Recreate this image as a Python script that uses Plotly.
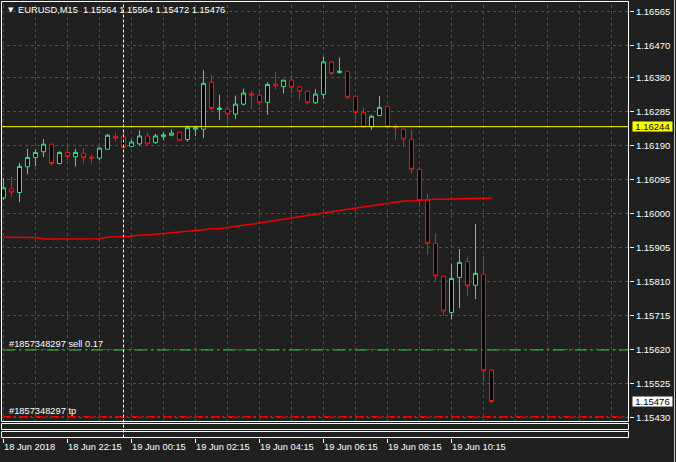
import plotly.graph_objects as go

# ---------------- data ----------------
bars = list(range(62))
open_ = [1.16045, 1.16070, 1.16060, 1.16132, 1.16158, 1.16174, 1.16195, 1.16141, 1.16172, 1.16160,
         1.16170, 1.16159, 1.16156, 1.16181, 1.16217, 1.16216, 1.16189, 1.16196, 1.16218, 1.16200,
         1.16216, 1.16220, 1.16228, 1.16208, 1.16237, 1.16237, 1.16368, 1.16292, 1.16293, 1.16279,
         1.16307, 1.16336, 1.16332, 1.16312, 1.16363, 1.16356, 1.16374, 1.16355, 1.16343, 1.16311,
         1.16334, 1.16425, 1.16395, 1.16399, 1.16329, 1.16284, 1.16244, 1.16275, 1.16301, 1.16243,
         1.16237, 1.16209, 1.16125, 1.16039, 1.15918, 1.15826, 1.15725, 1.15823, 1.15867, 1.15801,
         1.15832, 1.15564]
high = [1.16101, 1.16104, 1.16143, 1.16182, 1.16181, 1.16209, 1.16196, 1.16176, 1.16195, 1.16182,
        1.16184, 1.16167, 1.16187, 1.16224, 1.16228, 1.16228, 1.16208, 1.16234, 1.16228, 1.16224,
        1.16228, 1.16236, 1.16229, 1.16247, 1.16242, 1.16402, 1.16388, 1.16333, 1.16303, 1.16331,
        1.16350, 1.16344, 1.16346, 1.16368, 1.16398, 1.16375, 1.16388, 1.16358, 1.16344, 1.16349,
        1.16440, 1.16426, 1.16437, 1.16400, 1.16330, 1.16298, 1.16277, 1.16330, 1.16302, 1.16252,
        1.16238, 1.16235, 1.16126, 1.16056, 1.15946, 1.15827, 1.15860, 1.15902, 1.15881, 1.15972,
        1.15883, 1.15564]
low = [1.16039, 1.16048, 1.16033, 1.16111, 1.16134, 1.16159, 1.16135, 1.16139, 1.16150, 1.16133,
       1.16141, 1.16141, 1.16150, 1.16180, 1.16204, 1.16185, 1.16187, 1.16191, 1.16193, 1.16196,
       1.16206, 1.16219, 1.16204, 1.16202, 1.16218, 1.16212, 1.16291, 1.16263, 1.16251, 1.16265,
       1.16303, 1.16293, 1.16303, 1.16277, 1.16348, 1.16337, 1.16337, 1.16317, 1.16306, 1.16307,
       1.16321, 1.16388, 1.16393, 1.16321, 1.16253, 1.16242, 1.16235, 1.16274, 1.16239, 1.16207,
       1.16186, 1.16113, 1.16020, 1.15885, 1.15811, 1.15716, 1.15706, 1.15737, 1.15771, 1.15762,
       1.15530, 1.15472]
close = [1.16073, 1.16061, 1.16133, 1.16158, 1.16172, 1.16195, 1.16141, 1.16172, 1.16161, 1.16172,
         1.16157, 1.16156, 1.16184, 1.16220, 1.16212, 1.16186, 1.16201, 1.16218, 1.16196, 1.16218,
         1.16221, 1.16226, 1.16206, 1.16241, 1.16241, 1.16365, 1.16295, 1.16296, 1.16279, 1.16307,
         1.16338, 1.16332, 1.16311, 1.16362, 1.16358, 1.16374, 1.16354, 1.16343, 1.16311, 1.16335,
         1.16425, 1.16393, 1.16399, 1.16326, 1.16284, 1.16243, 1.16273, 1.16298, 1.16243, 1.16241,
         1.16209, 1.16125, 1.16037, 1.15918, 1.15827, 1.15729, 1.15820, 1.15865, 1.15799, 1.15834,
         1.15562, 1.15476]
ma = [1.15935, 1.15935, 1.15935, 1.15935, 1.15934, 1.15930, 1.15930, 1.15930, 1.15930, 1.15930,
      1.15930, 1.15930, 1.15931, 1.15935, 1.15935, 1.15937, 1.15938, 1.15941, 1.15941, 1.15943,
      1.15946, 1.15946, 1.15950, 1.15950, 1.15953, 1.15956, 1.15959, 1.15959, 1.15962, 1.15965,
      1.15968, 1.15972, 1.15975, 1.15978, 1.15982, 1.15985, 1.15989, 1.15992, 1.15996, 1.15999,
      1.16003, 1.16006, 1.16010, 1.16013, 1.16017, 1.16020, 1.16023, 1.16027, 1.16030, 1.16033,
      1.16036, 1.16036, 1.16038, 1.16039, 1.16041, 1.16041, 1.16041, 1.16041, 1.16043, 1.16044,
      1.16044, 1.16044]

tick_bars = [0, 8, 16, 24, 32, 40, 48, 56]
tick_labels = ["18 Jun 2018", "18 Jun 22:15", "19 Jun 00:15", "19 Jun 02:15",
               "19 Jun 04:15", "19 Jun 06:15", "19 Jun 08:15", "19 Jun 10:15"]
price_ticks = [1.15430, 1.15525, 1.15620, 1.15715, 1.15810, 1.15905, 1.16000,
               1.16095, 1.16190, 1.16285, 1.16380, 1.16470, 1.16565]
price_labels = ["1.15430", "1.15525", "1.15620", "1.15715", "1.15810", "1.15905", "1.16000",
                "1.16095", "1.16190", "1.16285", "1.16380", "1.16470", "1.16565"]

symbol = "EURUSD,M15"
hline_level = 1.16244
bid_price = 1.15476
order_id = "#1857348297"
sell_price = 1.15620
sell_lots = "0.17"
tp_price = 1.15434
marker_bar = 15

# ---------------- style / layout ----------------
W, H = 676, 462
ML, MR, MT, MB = 1, 47, 1, 24
PW = W - ML - MR
PH = H - MT - MB
BOTTOM = H - MB  # pixel row of plot-area bottom


def px_x(px):
    return (px - ML) / PW


def px_y(py):
    return (BOTTOM - py) / PH


BG = "#202020"
GRID = "#505050"
UP = "#2ee88a"
DN = "#ff1010"
FONT = "Liberation Sans"
main_bottom = px_y(422)
XSHIFT = 0.0625  # half-pixel alignment of bar centres

fig = go.Figure()
fig.add_trace(go.Candlestick(
    x=bars, open=open_, high=high, low=low, close=close,
    increasing=dict(line=dict(color=UP, width=1), fillcolor="#000000"),
    decreasing=dict(line=dict(color=DN, width=1), fillcolor="#000000"),
    whiskerwidth=0, hoverinfo="skip", showlegend=False,
))
fig.add_trace(go.Scatter(x=bars, y=ma, mode="lines", line=dict(color="#f00000", width=1.5),
                         hoverinfo="skip", showlegend=False))

shapes = []
# vertical grid every 4 bars
for b in range(0, 80, 4):
    shapes.append(dict(type="line", xref="x", yref="paper", x0=b, x1=b, y0=main_bottom, y1=1,
                       line=dict(color=GRID, width=1, dash="3px,3px"), layer="below"))
# horizontal levels
shapes.append(dict(type="line", xref="paper", yref="y", x0=0, x1=1, y0=hline_level, y1=hline_level,
                   line=dict(color="#ffff00", width=1)))
shapes.append(dict(type="line", xref="paper", yref="y", x0=px_x(3), x1=1, y0=sell_price, y1=sell_price,
                   line=dict(color="#3cc83c", width=1, dash="12px,4px,2px,4px")))
shapes.append(dict(type="line", xref="paper", yref="y", x0=px_x(3), x1=1, y0=tp_price, y1=tp_price,
                   line=dict(color="#ff0000", width=1, dash="8px,3px,2px,3px")))
# vertical dashed marker
shapes.append(dict(type="line", xref="x", yref="paper", x0=marker_bar, x1=marker_bar,
                   y0=px_y(437.5), y1=1,
                   line=dict(color="#ffffff", width=1, dash="3px,2px")))
# pane borders (half-pixel aligned)
bx0, bx1 = px_x(1.5), px_x(628.5)
shapes.append(dict(type="rect", xref="paper", yref="paper", x0=bx0, x1=bx1,
                   y0=px_y(421.5), y1=px_y(1.5), line=dict(color="#ffffff", width=1)))
shapes.append(dict(type="rect", xref="paper", yref="paper", x0=bx0, x1=bx1,
                   y0=px_y(429.5), y1=px_y(423.5), line=dict(color="#ffffff", width=1)))
shapes.append(dict(type="rect", xref="paper", yref="paper", x0=bx0, x1=bx1,
                   y0=px_y(437.5), y1=px_y(431.5), line=dict(color="#ffffff", width=1)))
# window edge on the right
shapes.append(dict(type="line", xref="paper", yref="paper", x0=px_x(674.5), x1=px_x(674.5),
                   y0=px_y(462), y1=px_y(0), line=dict(color="#c8c8c8", width=1)))

header = "\u00a0".join([symbol, "", f"{open_[-1]:.5f}", f"{high[-1]:.5f}", f"{low[-1]:.5f}", f"{close[-1]:.5f}"])
annotations = [
    dict(xref="paper", yref="paper", x=px_x(6), y=px_y(10.5), xanchor="left", yanchor="middle",
         text="\u25bc", showarrow=False, font=dict(family="DejaVu Sans", size=7, color="#ffffff")),
    dict(xref="paper", yref="paper", x=px_x(16), y=px_y(10.5), xanchor="left", yanchor="middle",
         text=header, showarrow=False, font=dict(family=FONT, size=9.3, color="#ffffff")),
    dict(xref="paper", yref="y", x=px_x(7), y=sell_price, xanchor="left", yanchor="bottom",
         text=f"{order_id} sell {sell_lots}", showarrow=False, yshift=-1,
         font=dict(family=FONT, size=9.3, color="#ffffff")),
    dict(xref="paper", yref="y", x=px_x(7), y=tp_price, xanchor="left", yanchor="bottom",
         text=f"{order_id} tp", showarrow=False, yshift=-1,
         font=dict(family=FONT, size=9.3, color="#ffffff")),
    dict(xref="paper", yref="y", x=px_x(632), y=hline_level, xanchor="left", yanchor="middle",
         text=f"{hline_level:.5f}", showarrow=False, bgcolor="#ffff00", width=39, height=9,
         borderpad=0, align="center", font=dict(family=FONT, size=9.5, color="#000000")),
    dict(xref="paper", yref="y", x=px_x(632), y=bid_price, xanchor="left", yanchor="middle",
         text=f"{bid_price:.5f}", showarrow=False, bgcolor="#ffffff", width=39, height=9,
         borderpad=0, align="center", font=dict(family=FONT, size=9.5, color="#000000")),
]

fig.update_layout(
    width=W, height=H,
    margin=dict(l=ML, r=MR, t=MT, b=MB, pad=0, autoexpand=False),
    paper_bgcolor=BG, plot_bgcolor=BG,
    showlegend=False,
    shapes=shapes, annotations=annotations,
    xaxis=dict(range=[-0.25 - XSHIFT, 78.25 - XSHIFT], showgrid=False, zeroline=False, showline=False,
               tickmode="array", tickvals=tick_bars, ticktext=tick_labels, tickangle=0,
               ticks="outside", ticklen=4, tickcolor="#ffffff", tickwidth=1,
               tickfont=dict(family=FONT, size=9.3, color="#ffffff"),
               ticklabelposition="outside right", ticklabeloverflow="allow",
               anchor="free", position=0, rangeslider=dict(visible=False), fixedrange=True,
               automargin=False),
    yaxis=dict(domain=[main_bottom, 1], range=[1.154188, 1.165951], side="right",
               tickmode="array", tickvals=price_ticks, ticktext=price_labels,
               ticks="outside", ticklen=4, tickcolor="#ffffff", tickwidth=1,
               tickfont=dict(family=FONT, size=9.5, color="#ffffff"),
               showgrid=True, gridcolor=GRID, griddash="3px,3px", gridwidth=1,
               zeroline=False, showline=False, fixedrange=True, automargin=False),
)

fig.write_html(
    "out.html",
    config={"displayModeBar": False},
    post_script=("document.body.style.margin='0';document.body.style.overflow='hidden';"
                 "document.documentElement.style.overflow='hidden';"
                 "document.body.style.background='#202020';"),
)
